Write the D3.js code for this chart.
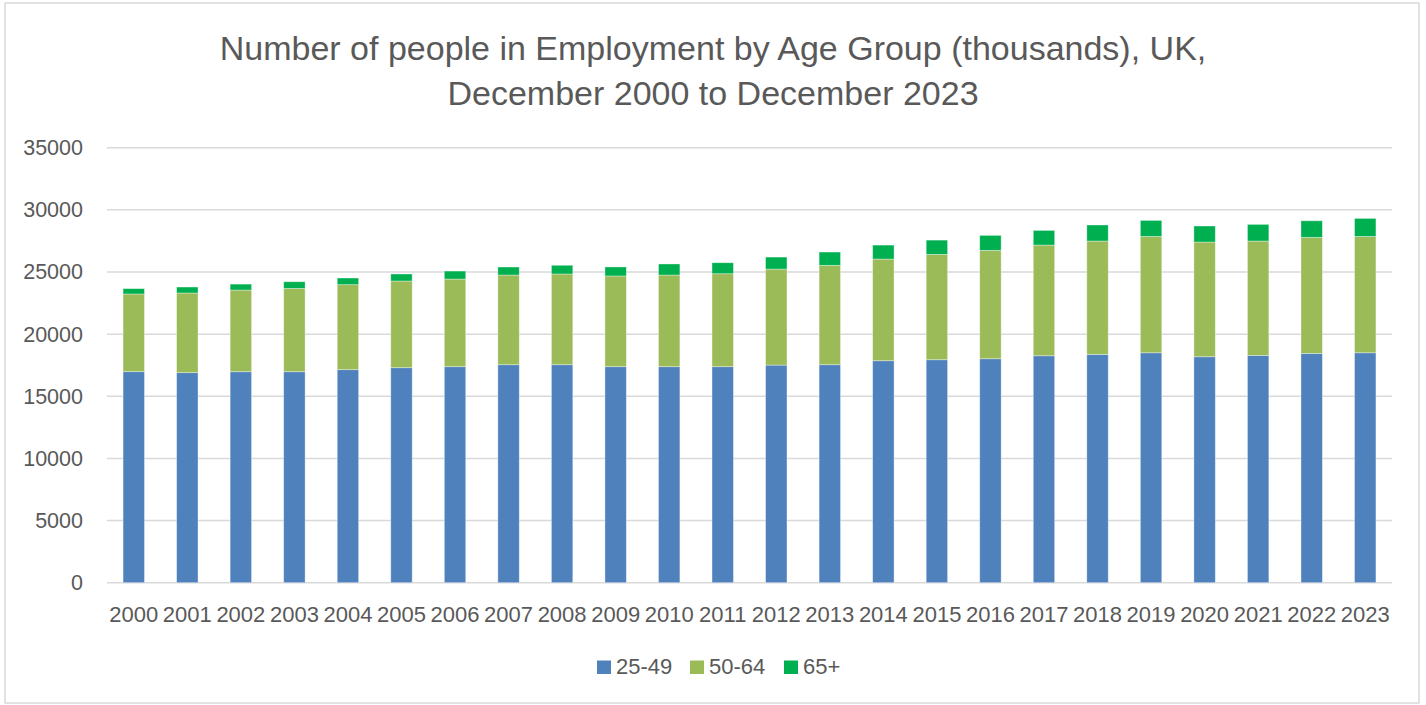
<!DOCTYPE html>
<html>
<head>
<meta charset="utf-8">
<script src="https://cdn.jsdelivr.net/npm/d3@7"></script>
<style>
  html, body { margin: 0; padding: 0; background: #fff; }
  svg { display: block; }
  text { font-family: "Liberation Sans", Arial, sans-serif; fill: #595959; }
</style>
</head>
<body>
<svg id="chart" width="1426" height="705"></svg>
<script>
const years = ["2000","2001","2002","2003","2004","2005","2006","2007","2008","2009","2010","2011","2012","2013","2014","2015","2016","2017","2018","2019","2020","2021","2022","2023"];
const age25to49 = [16980, 16900, 16975, 16975, 17140, 17300, 17380, 17540, 17540, 17380, 17380, 17380, 17510, 17540, 17860, 17940, 18020, 18260, 18370, 18500, 18180, 18290, 18450, 18500];
const age50to64 = [6250, 6410, 6570, 6700, 6840, 6975, 7050, 7215, 7300, 7300, 7375, 7480, 7725, 7995, 8180, 8475, 8720, 8905, 9120, 9360, 9230, 9200, 9335, 9360];
const age65plus = [430, 480, 480, 540, 535, 565, 645, 645, 700, 725, 890, 885, 965, 1070, 1125, 1150, 1205, 1180, 1290, 1290, 1290, 1340, 1335, 1450];
const seriesNames = ["25-49", "50-64", "65+"];
const seriesColors = ["#4f81bd", "#9bbb59", "#00b050"];
const yTicks = [0, 5000, 10000, 15000, 20000, 25000, 30000, 35000];
const titleLines = ["Number of people in Employment by Age Group (thousands), UK,", "December 2000 to December 2023"];

const svg = d3.select("#chart");

// outer border
svg.append("rect").attr("x", 5).attr("y", 3).attr("width", 1414).attr("height", 700)
  .attr("fill", "#fff").attr("stroke", "#d9d9d9").attr("stroke-width", 1.5);

// title
svg.append("g").selectAll("text").data(titleLines).join("text")
  .attr("x", 713).attr("y", (d, i) => 60 + i * 44.5)
  .attr("text-anchor", "middle").style("font-size", "34px")
  .text(d => d);

const plotLeft = 107, plotRight = 1392, plotTop = 147.7, plotBottom = 582.7;
const x = d3.scaleBand().domain(years).range([plotLeft, plotRight]).paddingInner(0.6).paddingOuter(0.3);
const y = d3.scaleLinear().domain([0, 35000]).range([plotBottom, plotTop]);

// gridlines
svg.append("g").selectAll("line").data(yTicks).join("line")
  .attr("x1", plotLeft).attr("x2", plotRight)
  .attr("y1", d => y(d)).attr("y2", d => y(d))
  .attr("stroke", "#d9d9d9").attr("stroke-width", 1.5);

// y axis labels
const yAxis = d3.axisLeft(y).tickValues(yTicks).tickSize(0).tickPadding(0).tickFormat(d3.format("d"));
const gy = svg.append("g").attr("transform", "translate(83,0)").call(yAxis);
gy.select(".domain").remove();
gy.selectAll("text").style("font-size", "21.5px").attr("fill", "#595959")
  .style("font-family", "'Liberation Sans', Arial, sans-serif");

// stacked data
const rows = years.map((yr, i) => ({year: yr, "25-49": age25to49[i], "50-64": age50to64[i], "65+": age65plus[i]}));
const stacked = d3.stack().keys(seriesNames)(rows);

svg.append("g").selectAll("g").data(stacked).join("g")
  .attr("fill", (d, i) => seriesColors[i])
  .selectAll("rect").data(d => d).join("rect")
  .attr("x", d => x(d.data.year))
  .attr("width", x.bandwidth())
  .attr("y", d => y(d[1]))
  .attr("height", d => y(d[0]) - y(d[1]))
  .attr("stroke", "#ffffff").attr("stroke-opacity", 0.45).attr("stroke-width", 0.8);

// x axis
const xAxis = d3.axisBottom(x).tickSize(0).tickPadding(0);
const gx = svg.append("g").attr("transform", `translate(0,${plotBottom})`).call(xAxis);
gx.select(".domain").remove();
gx.selectAll("text").attr("dy", null).attr("y", 39).style("font-size", "22px").attr("fill", "#595959")
  .style("font-family", "'Liberation Sans', Arial, sans-serif");

// legend
const legendX = [597, 690, 784];
const lg = svg.append("g").selectAll("g").data(seriesNames).join("g")
  .attr("transform", (d, i) => `translate(${legendX[i]},660.5)`);
lg.append("rect").attr("width", 14).attr("height", 13.5).attr("fill", (d, i) => seriesColors[i]);
lg.append("text").attr("x", 19).attr("y", 13.5).style("font-size", "22px").text(d => d);
</script>
</body>
</html>
